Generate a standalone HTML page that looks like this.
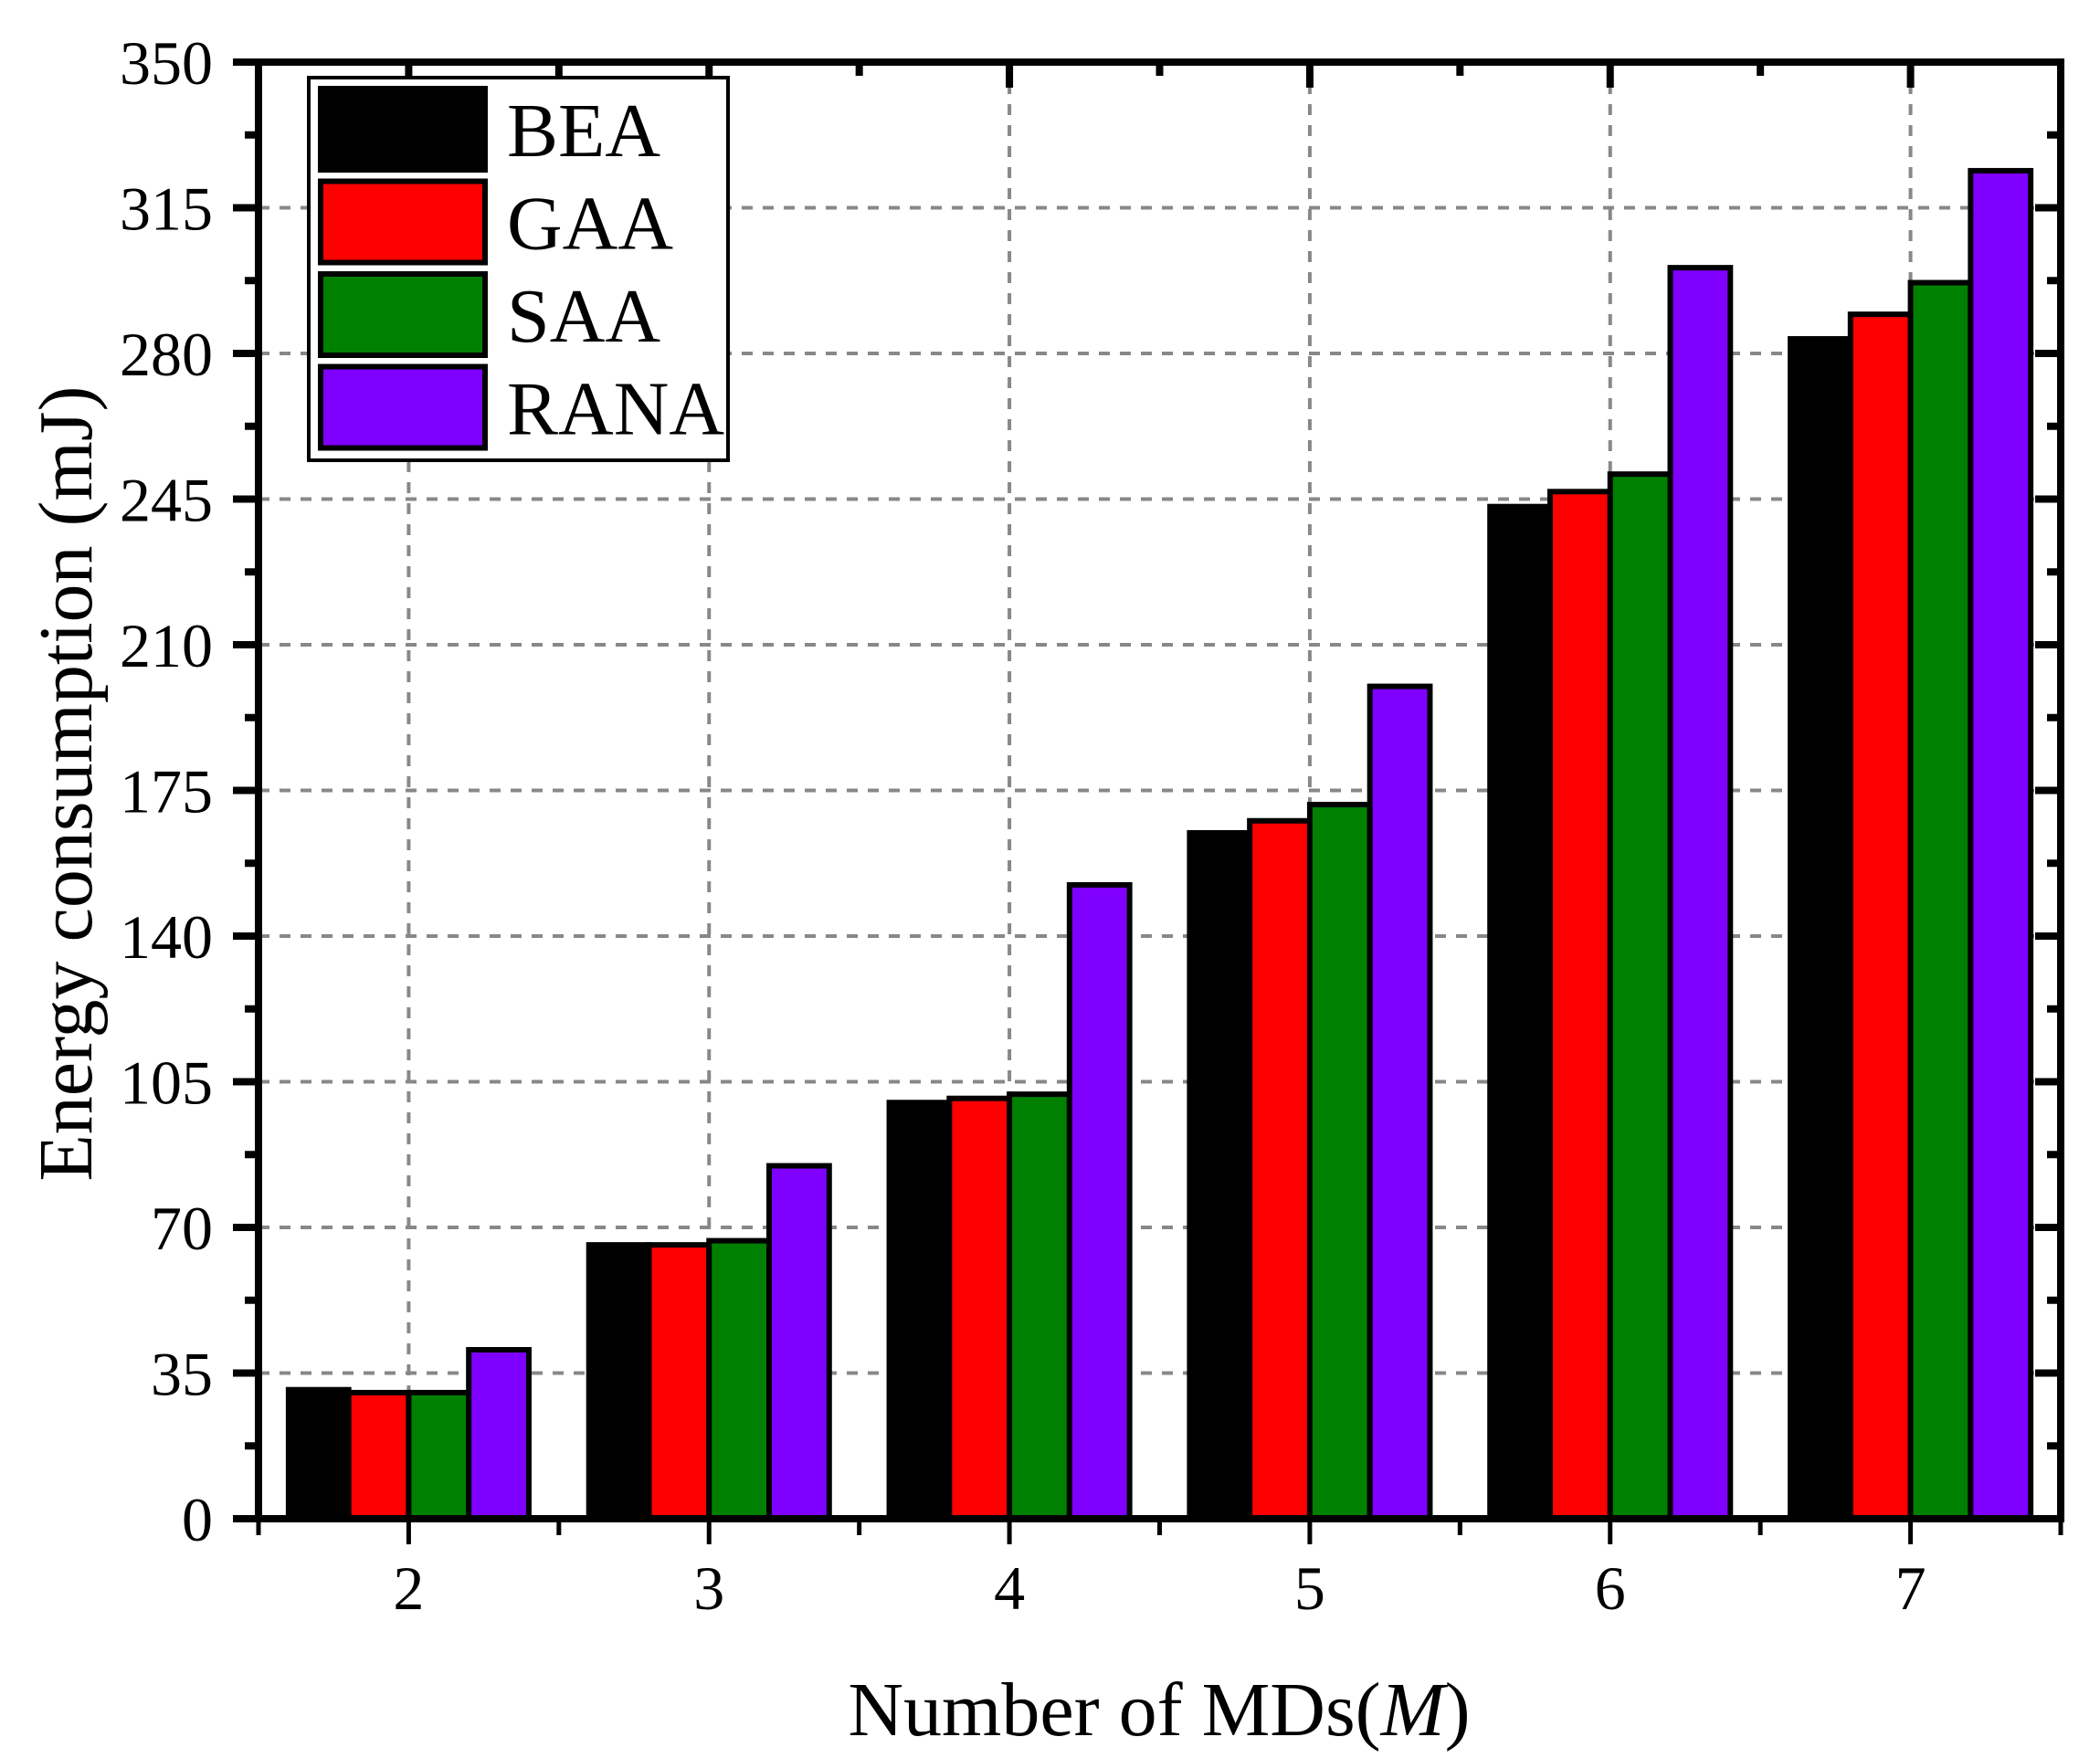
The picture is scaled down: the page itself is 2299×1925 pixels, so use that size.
<!DOCTYPE html>
<html><head><meta charset="utf-8"><style>
html,body{margin:0;padding:0;background:#fff}
svg{display:block}
text{font-family:"Liberation Serif","DejaVu Serif",serif;fill:#000}
</style></head><body>
<svg id="chart" width="2299" height="1925" viewBox="0 0 2299 1925" xmlns="http://www.w3.org/2000/svg">
<g id="grid"></g>
<g id="bars"></g>
<g id="axes"></g>
<g id="legend"></g>
<text x="0" y="0" font-size="84" text-anchor="middle" transform="translate(100,858) rotate(-90)">Energy consumption (mJ)</text>
<text x="1269" y="1900" font-size="84" text-anchor="middle">Number of MDs(<tspan font-style="italic">M</tspan>)</text>
</svg>
<script>
const categories = [2, 3, 4, 5, 6, 7];
const seriesNames = ["BEA", "GAA", "SAA", "RANA"];
const seriesColors = ["#000000", "#ff0000", "#008000", "#8000ff"];
const bea = [31, 65.8, 100, 164.8, 243.2, 283.5];
const gaa = [30.3, 65.8, 101, 167.7, 246.8, 289.4];
const saa = [30.3, 66.8, 102, 171.6, 251, 297];
const rana = [40.6, 84.8, 152.3, 200, 300.6, 323.9];
const yTicks = [0, 35, 70, 105, 140, 175, 210, 245, 280, 315, 350];

const NS = "http://www.w3.org/2000/svg";
const L = 283, R = 2256, T = 68, B = 1663;
const xMin = 1.5, xMax = 7.5, yMax = 350;
const xs = v => L + (v - xMin) / (xMax - xMin) * (R - L);
const ys = v => B - v / yMax * (B - T);
function mk(tag, attrs, parent){const e=document.createElementNS(NS,tag);for(const k in attrs)e.setAttribute(k,attrs[k]);parent.appendChild(e);return e;}
const grid=document.getElementById('grid'), barsG=document.getElementById('bars'), axes=document.getElementById('axes'), leg=document.getElementById('legend');

yTicks.forEach(t=>{ if(t===0||t===350) return;
  const l=mk('line',{x1:L,x2:R,y1:ys(t),y2:ys(t),stroke:'#888',"stroke-width":4,"stroke-dasharray":"12 11"},grid);
  
  
});
categories.forEach(c=>{
  const l=mk('line',{x1:xs(c),x2:xs(c),y1:T,y2:B,stroke:'#888',"stroke-width":4,"stroke-dasharray":"12 11"},grid);
  
  
});

const series=[bea,gaa,saa,rana];
const step=xs(3)-xs(2), bw=step*0.8/4;
series.forEach((s,si)=>{
  s.forEach((v,ci)=>{
    const x0=xs(categories[ci])-2*bw+si*bw;
    const r=mk('rect',{x:x0,y:ys(v),width:bw,height:B-ys(v),fill:seriesColors[si],stroke:'#000',"stroke-width":6},barsG);
    
    
  });
});

mk('rect',{x:L,y:T,width:R-L,height:B-T,fill:'none',stroke:'#000',"stroke-width":8},axes);
yTicks.forEach((t,i)=>{
  mk('line',{x1:L-28,x2:L,y1:ys(t),y2:ys(t),stroke:'#000',"stroke-width":8},axes);
  mk('line',{x1:R-28,x2:R,y1:ys(t),y2:ys(t),stroke:'#000',"stroke-width":8},axes);
  const lb=mk('text',{x:L-50,y:ys(t)+24,"font-size":68,"text-anchor":"end"},axes);
  lb.textContent=t;
  
  
  if(i<yTicks.length-1){const m=ys(t+17.5);
    mk('line',{x1:L-15,x2:L,y1:m,y2:m,stroke:'#000',"stroke-width":8},axes);
    mk('line',{x1:R-15,x2:R,y1:m,y2:m,stroke:'#000',"stroke-width":8},axes);}
});
categories.forEach(c=>{
  const x=xs(c);
  mk('line',{x1:x,x2:x,y1:B,y2:B+28,stroke:'#000',"stroke-width":5},axes);
  mk('line',{x1:x,x2:x,y1:T,y2:T+28,stroke:'#000',"stroke-width":8},axes);
  const lb=mk('text',{x:x,y:1762,"font-size":68,"text-anchor":"middle"},axes);
  lb.textContent=c;
  
  
});
for(let h=1.5;h<=7.5;h+=1){const x=xs(h);
  mk('line',{x1:x,x2:x,y1:B,y2:B+18,stroke:'#000',"stroke-width":5},axes);
  mk('line',{x1:x,x2:x,y1:T,y2:T+15,stroke:'#000',"stroke-width":8},axes);}

const lbx=mk('rect',{x:338,y:85,width:459,height:419,fill:'#fff',stroke:'#000',"stroke-width":4},leg);


seriesNames.forEach((n,i)=>{
  const y=97+i*101.5;
  const sw=mk('rect',{x:351,y:y,width:180,height:89,fill:seriesColors[i],stroke:'#000',"stroke-width":6},leg);
  
  
  const tx=mk('text',{x:555,y:y+74,"font-size":84},leg);
  tx.textContent=n;
  
  
});
</script>
</body></html>
